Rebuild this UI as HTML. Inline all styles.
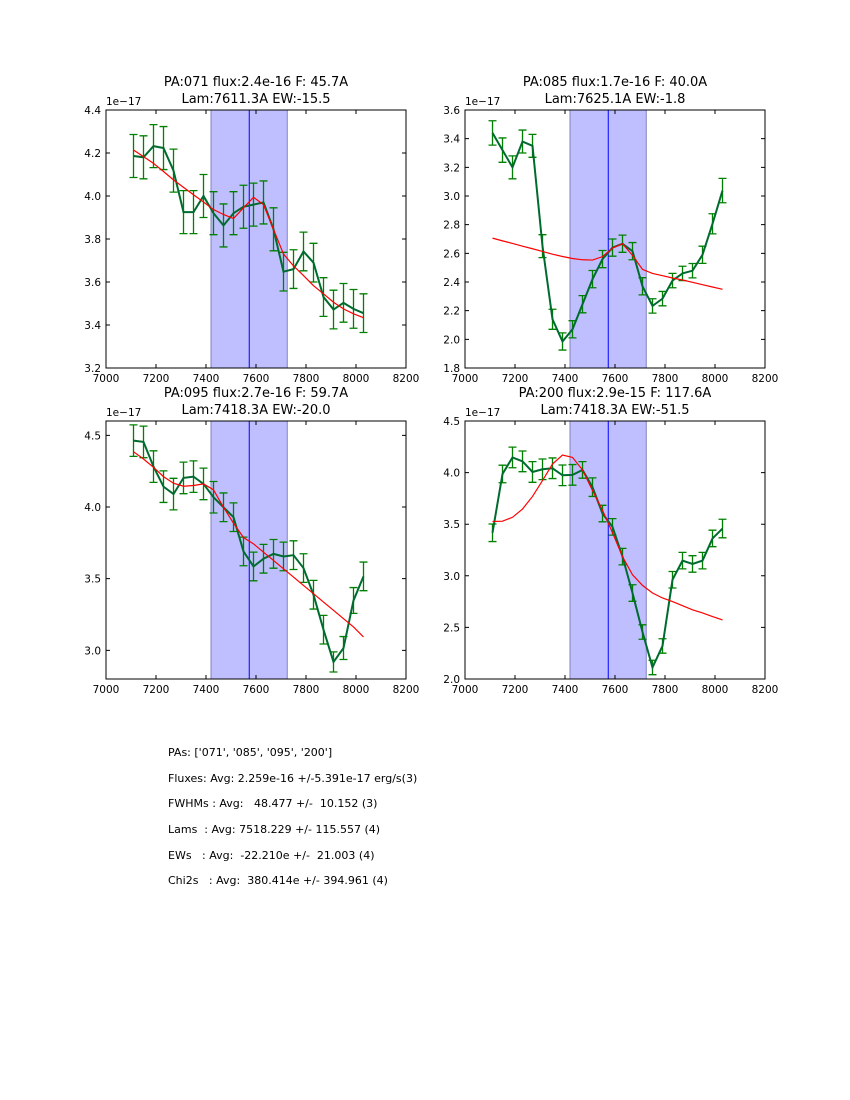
<!DOCTYPE html>
<html><head><meta charset="utf-8"><style>
body{margin:0;background:#fff;width:850px;height:1100px;overflow:hidden;font-family:"DejaVu Sans","Liberation Sans",sans-serif}
#txt{position:absolute;left:168px;top:746px;font-size:11px;color:#000}
#txt div{height:25.7px;white-space:pre}
</style></head><body>
<svg id="fig" width="850" height="1100" style="position:absolute;left:0;top:0" font-family="DejaVu Sans, Liberation Sans, sans-serif"></svg>
<div id="txt">
<div>PAs: ['071', '085', '095', '200']</div>
<div>Fluxes: Avg: 2.259e-16 +/-5.391e-17 erg/s(3)</div>
<div>FWHMs : Avg:   48.477 +/-  10.152 (3)</div>
<div>Lams  : Avg: 7518.229 +/- 115.557 (4)</div>
<div>EWs   : Avg:  -22.210e +/-  21.003 (4)</div>
<div>Chi2s   : Avg:  380.414e +/- 394.961 (4)</div>
</div>
<script>
const wavelengths=[7110,7150,7190,7230,7270,7310,7350,7390,7430,7470,7510,7550,7590,7630,7670,7710,7750,7790,7830,7870,7910,7950,7990,8030];
const xTicks=[7000,7200,7400,7600,7800,8000,8200];
const titles=[["PA:071 flux:2.4e-16 F: 45.7A","Lam:7611.3A EW:-15.5"],["PA:085 flux:1.7e-16 F: 40.0A","Lam:7625.1A EW:-1.8"],["PA:095 flux:2.7e-16 F: 59.7A","Lam:7418.3A EW:-20.0"],["PA:200 flux:2.9e-15 F: 117.6A","Lam:7418.3A EW:-51.5"]];
const ylims=[[3.2,4.4],[1.8,3.6],[2.8,4.6],[2.0,4.5]];
const yTicks1=[3.2,3.4,3.6,3.8,4.0,4.2,4.4];
const yTicks2=[1.8,2.0,2.2,2.4,2.6,2.8,3.0,3.2,3.4,3.6];
const yTicks3=[3.0,3.5,4.0,4.5];
const yTicks4=[2.0,2.5,3.0,3.5,4.0,4.5];
const flux1=[4.186,4.18,4.232,4.223,4.118,3.925,3.925,4.0,3.92,3.863,3.92,3.95,3.96,3.97,3.845,3.648,3.66,3.742,3.69,3.53,3.472,3.503,3.475,3.455];
const model1=[4.214,4.183,4.152,4.114,4.075,4.04,4.006,3.972,3.937,3.914,3.895,3.945,3.994,3.96,3.845,3.73,3.675,3.63,3.583,3.545,3.506,3.475,3.452,3.434];
const err1=[0.1,0.1,0.1,0.1,0.1,0.1,0.1,0.1,0.1,0.1,0.1,0.1,0.1,0.1,0.1,0.09,0.09,0.09,0.09,0.09,0.09,0.09,0.09,0.09];
const flux2=[3.44,3.32,3.20,3.38,3.35,2.65,2.14,1.985,2.07,2.245,2.42,2.56,2.64,2.667,2.615,2.37,2.233,2.284,2.41,2.46,2.479,2.59,2.806,3.038];
const model2=[2.706,2.687,2.669,2.65,2.632,2.613,2.594,2.578,2.564,2.555,2.553,2.577,2.637,2.667,2.586,2.488,2.46,2.444,2.428,2.414,2.398,2.381,2.365,2.349];
const err2=[0.085,0.085,0.08,0.08,0.08,0.08,0.07,0.06,0.06,0.06,0.06,0.06,0.06,0.06,0.06,0.06,0.05,0.05,0.05,0.05,0.05,0.06,0.07,0.085];
const flux3=[4.463,4.454,4.282,4.142,4.09,4.203,4.212,4.161,4.068,3.998,3.929,3.69,3.585,3.639,3.673,3.655,3.664,3.574,3.388,3.144,2.919,3.016,3.348,3.516];
const model3=[4.386,4.335,4.277,4.212,4.166,4.145,4.15,4.161,4.12,3.998,3.887,3.787,3.743,3.685,3.627,3.569,3.511,3.453,3.395,3.337,3.279,3.221,3.163,3.093];
const err3=[0.11,0.11,0.11,0.11,0.11,0.11,0.11,0.11,0.11,0.1,0.1,0.1,0.1,0.1,0.1,0.1,0.1,0.1,0.1,0.1,0.07,0.08,0.09,0.1];
const flux4=[3.417,3.987,4.147,4.109,4.006,4.032,4.042,3.974,3.978,4.026,3.859,3.603,3.474,3.186,2.833,2.455,2.112,2.32,2.962,3.147,3.115,3.147,3.362,3.458];
const model4=[3.526,3.529,3.567,3.647,3.769,3.923,4.083,4.17,4.147,4.026,3.827,3.635,3.417,3.186,3.01,2.907,2.833,2.785,2.75,2.71,2.67,2.64,2.605,2.572];
const err4=[0.085,0.085,0.1,0.1,0.1,0.1,0.1,0.1,0.1,0.08,0.09,0.08,0.08,0.08,0.08,0.07,0.07,0.07,0.08,0.08,0.08,0.08,0.08,0.09];
const bandLo=7420, bandHi=7725, lineLam=7573;

const NS="http://www.w3.org/2000/svg";
const svg=document.getElementById('fig');
function mk(tag,attrs,parent){const e=document.createElementNS(NS,tag);for(const k in attrs)e.setAttribute(k,attrs[k]);(parent||svg).appendChild(e);return e;}
const boxes=[[106,110],[465,110],[106,421],[465,421]];
const W=300,H=258;
const allFlux=[flux1,flux2,flux3,flux4],allModel=[model1,model2,model3,model4],allErr=[err1,err2,err3,err4],allYT=[yTicks1,yTicks2,yTicks3,yTicks4];
for(let p=0;p<4;p++){
  const [x0,y0]=boxes[p];const [ymin,ymax]=ylims[p];
  const g=mk('g',{});
  
  
  const xs=v=>x0+(v-7000)/1200*W;
  const ys=v=>y0+H-(v-ymin)/(ymax-ymin)*H;
  const clipId='c'+p;
  const cp=mk('clipPath',{id:clipId},g);mk('rect',{x:x0,y:y0,width:W,height:H},cp);
  const band=mk('rect',{x:xs(bandLo),y:y0,width:xs(bandHi)-xs(bandLo),height:H,fill:'#bfbfff',stroke:'#8080c0','stroke-width':1},g);
  
  
  const vl=mk('line',{x1:xs(lineLam),x2:xs(lineLam),y1:y0,y2:y0+H,stroke:'#0000ff','stroke-width':1},g);
  
  
  const cg=mk('g',{'clip-path':'url(#'+clipId+')'},g);
  const f=allFlux[p],m=allModel[p],e=allErr[p];
  for(let i=0;i<wavelengths.length;i++){
    const x=xs(wavelengths[i]),yt=ys(f[i]+e[i]),yb=ys(f[i]-e[i]);
    const eb=mk('path',{d:`M${x},${yt}V${yb}M${x-4},${yt}H${x+4}M${x-4},${yb}H${x+4}`,stroke:'#008000','stroke-width':1.3,fill:'none'},cg);
    
    
  }
  const dp=wavelengths.map((w,i)=>(i?'L':'M')+xs(w)+','+ys(f[i])).join('');
  const dl=mk('path',{d:dp,stroke:'#006b2e','stroke-width':2,fill:'none'},cg);
  
  
  const mp=wavelengths.map((w,i)=>(i?'L':'M')+xs(w)+','+ys(m[i])).join('');
  const ml=mk('path',{d:mp,stroke:'#ff0000','stroke-width':1.2,fill:'none'},cg);
  
  
  const fr=mk('rect',{x:x0,y:y0,width:W,height:H,fill:'none',stroke:'#000','stroke-width':1},g);
  
  
  for(const t of xTicks){const x=xs(t);
    mk('path',{d:`M${x},${y0+H}v-4M${x},${y0}v4`,stroke:'#000'},g);
    const tx=mk('text',{x:x,y:y0+H+14,'font-size':10.5,'text-anchor':'middle'},g);tx.textContent=t;
    
    }
  for(const t of allYT[p]){const y=ys(t);
    mk('path',{d:`M${x0},${y}h4M${x0+W},${y}h-4`,stroke:'#000'},g);
    const ty=mk('text',{x:x0-5,y:y+4,'font-size':10.5,'text-anchor':'end'},g);ty.textContent=t.toFixed(1);
    
    }
  const off=mk('text',{x:x0,y:y0-5,'font-size':10.5},g);off.textContent='1e\u221217';
  
  
  for(let k=0;k<2;k++){const tt=mk('text',{x:x0+W/2,y:y0-24+k*17,'font-size':13,'text-anchor':'middle'},g);tt.textContent=titles[p][k];
    
    }
}
</script>
</body></html>
